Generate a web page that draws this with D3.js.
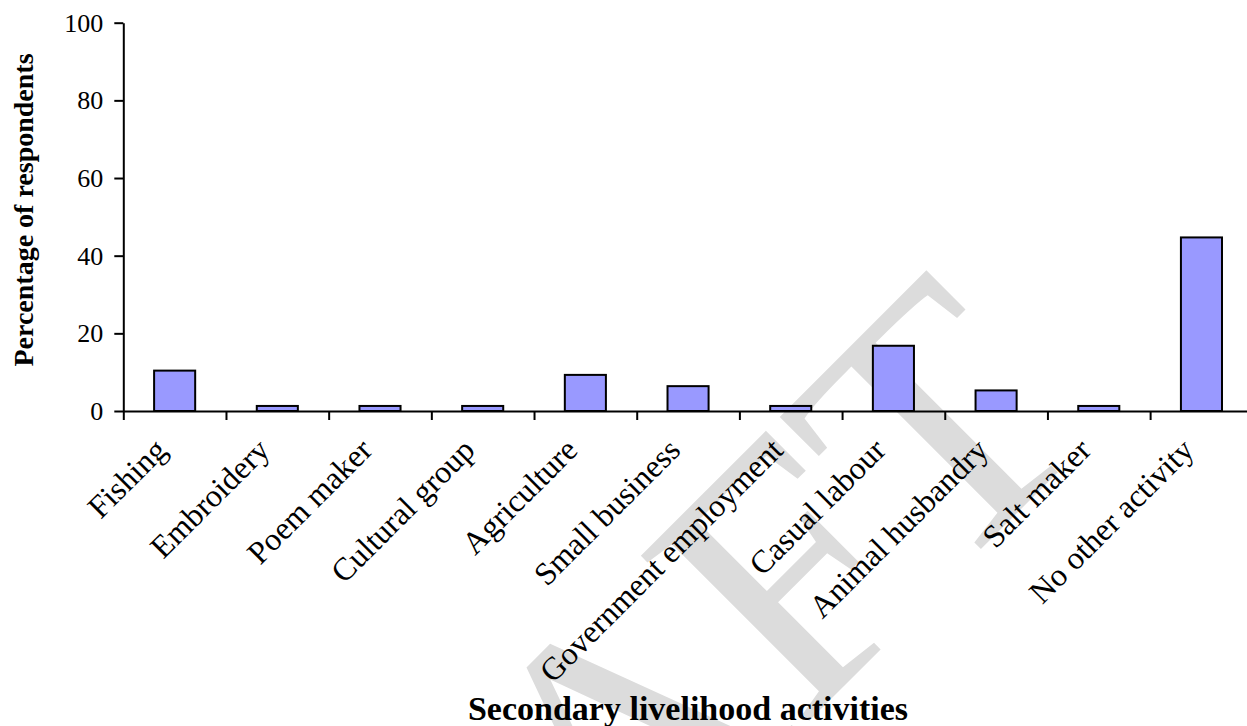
<!DOCTYPE html>
<html>
<head>
<meta charset="utf-8">
<script src="https://cdn.jsdelivr.net/npm/d3@7"></script>
<style>
  body { margin: 0; background: #fff; }
  svg { display: block; font-family: "Liberation Serif", "Times New Roman", serif; }
</style>
</head>
<body>
<div id="canvas"></div>
<script>
"use strict"

// data
let activities = ["Fishing", "Embroidery", "Poem maker", "Cultural group", "Agriculture",
    "Small business", "Government employment", "Casual labour", "Animal husbandry",
    "Salt maker", "No other activity"];
let percentages = [10.4, 1.3, 1.3, 1.3, 9.3, 6.4, 1.3, 16.8, 5.3, 1.3, 44.7];
let yTicks = [0, 20, 40, 60, 80, 100];

let width = 1247, height = 726;

let drawing = d3.select("#canvas")
    .append("svg")
    .attr("width", width)
    .attr("height", height);

// watermark behind everything
drawing.append("text")
    .attr("transform", "translate(680,850) rotate(-45)")
    .attr("text-anchor", "middle")
    .attr("font-size", 360)
    .attr("fill", "#dcdcdc")
    .text("DRAFT");

let x = d3.scaleBand()
    .domain(activities)
    .range([123.3, 1252.8])
    .padding(0);

// category boundaries for the tick marks between bars
let xEdges = d3.scaleLinear()
    .domain([0, activities.length])
    .range([123.3, 1252.8]);

let y = d3.scaleLinear()
    .domain([0, 100])
    .range([411, 22.7]);

let barW = x.bandwidth() * 0.4;

drawing.selectAll("rect.bar")
    .data(percentages)
    .enter()
    .append("rect")
    .attr("class", "bar")
    .attr("x", (d, i) => x(activities[i]) + x.bandwidth() / 2 - barW / 2)
    .attr("y", d => y(d))
    .attr("width", barW)
    .attr("height", d => y(0) - y(d))
    .attr("fill", "#9999ff")
    .attr("stroke", "#000")
    .attr("stroke-width", 2);

// y axis
let yAxis = drawing.append("g")
    .attr("transform", "translate(123.3,0)")
    .call(d3.axisLeft(y).tickValues(yTicks).tickSize(9).tickSizeOuter(0).tickPadding(11));

yAxis.selectAll("text")
    .attr("font-size", 26)
    .attr("font-family", "Liberation Serif")
    .attr("fill", "#000");

// x axis, ticks sit between categories
let xAxis = drawing.append("g")
    .attr("transform", "translate(0,411)")
    .call(d3.axisBottom(xEdges).tickValues(d3.range(activities.length + 1))
        .tickSize(9).tickSizeOuter(0).tickFormat(""));

drawing.selectAll(".domain, .tick line")
    .attr("stroke", "#000")
    .attr("stroke-width", 2);

// rotated category labels
drawing.selectAll("text.cat")
    .data(activities)
    .enter()
    .append("text")
    .attr("class", "cat")
    .attr("text-anchor", "end")
    .attr("font-size", 32)
    .attr("transform", d => "translate(" + (x(d) + x.bandwidth() / 2 - 6) + ",452) rotate(-45)")
    .text(d => d);

// axis titles
drawing.append("text")
    .attr("transform", "translate(33,210) rotate(-90)")
    .attr("text-anchor", "middle")
    .attr("font-size", 28)
    .attr("font-weight", "bold")
    .text("Percentage of respondents");

drawing.append("text")
    .attr("x", 688)
    .attr("y", 720)
    .attr("text-anchor", "middle")
    .attr("font-size", 34)
    .attr("font-weight", "bold")
    .text("Secondary livelihood activities");
</script>
</body>
</html>
